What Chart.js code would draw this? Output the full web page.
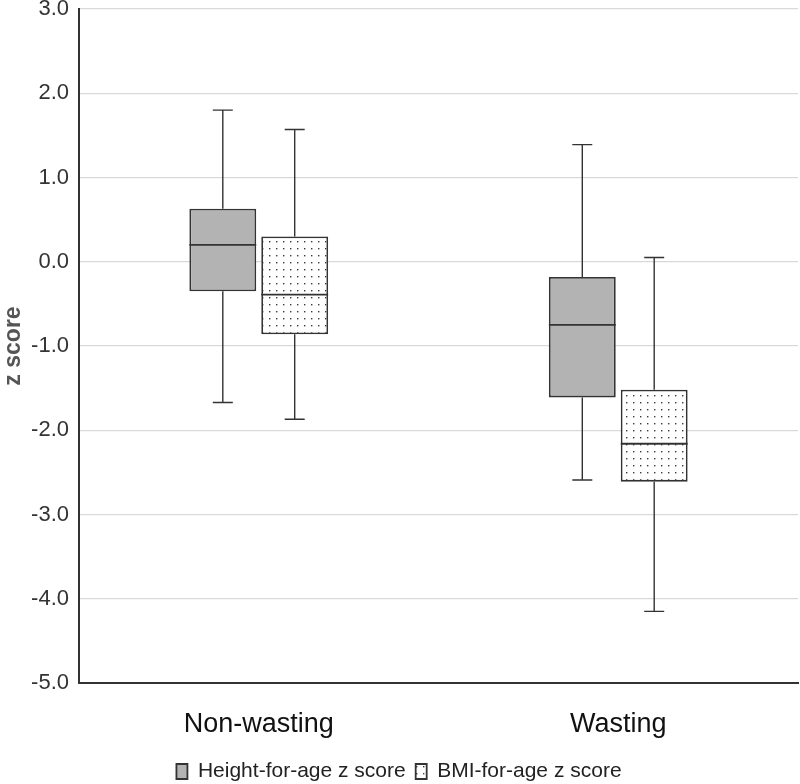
<!DOCTYPE html>
<html>
<head>
<meta charset="utf-8">
<script src="https://cdn.jsdelivr.net/npm/chart.js@4"></script>
<style>
  html, body { margin: 0; padding: 0; background: #fff; }
  #wrap { width: 800px; height: 784px; }
</style>
</head>
<body>
<div id="wrap"><canvas id="box_chart"></canvas></div>
<script>
const categories = ['Non-wasting', 'Wasting'];
const seriesNames = ['Height-for-age z score', 'BMI-for-age z score'];

// five-number summaries
const hazMin = [-1.67, -2.59];
const hazQ1 = [-0.35, -1.61];
const hazMedian = [0.20, -0.75];
const hazQ3 = [0.63, -0.18];
const hazMax = [1.80, 1.39];

const bmiMin = [-1.87, -4.15];
const bmiQ1 = [-0.86, -2.61];
const bmiMedian = [-0.39, -2.16];
const bmiQ3 = [0.30, -1.52];
const bmiMax = [1.57, 0.05];

const yMin = -5, yMax = 3;

function dotPattern() {
    const c = document.createElement('canvas');
    c.width = 7; c.height = 7;
    const g = c.getContext('2d');
    g.fillStyle = '#fff';
    g.fillRect(0, 0, 7, 7);
    g.fillStyle = '#3a3a3a';
    g.fillRect(3, 3, 1.4, 1.4);
    return g.createPattern(c, 'repeat');
}

const summaries = [
    {min: hazMin, median: hazMedian, max: hazMax},
    {min: bmiMin, median: bmiMedian, max: bmiMax}
];

// whiskers, caps and median lines
const boxPlotPlugin = {
    id: 'boxPlot',
    afterDatasetsDraw(chart) {
        const ctx = chart.ctx;
        const y = chart.scales.y;
        ctx.save();
        ctx.strokeStyle = '#333';
        chart.data.datasets.forEach((ds, di) => {
            const meta = chart.getDatasetMeta(di);
            const s = summaries[di];
            meta.data.forEach((bar, i) => {
                const x = bar.x;
                const half = bar.width / 2;
                const lo = ds.data[i][0], hi = ds.data[i][1];
                ctx.lineWidth = 1.4;
                ctx.beginPath();
                ctx.moveTo(x, y.getPixelForValue(hi));
                ctx.lineTo(x, y.getPixelForValue(s.max[i]));
                ctx.moveTo(x, y.getPixelForValue(lo));
                ctx.lineTo(x, y.getPixelForValue(s.min[i]));
                ctx.moveTo(x - 10, y.getPixelForValue(s.max[i]));
                ctx.lineTo(x + 10, y.getPixelForValue(s.max[i]));
                ctx.moveTo(x - 10, y.getPixelForValue(s.min[i]));
                ctx.lineTo(x + 10, y.getPixelForValue(s.min[i]));
                ctx.stroke();
                ctx.lineWidth = 1.8;
                ctx.beginPath();
                ctx.moveTo(x - half, y.getPixelForValue(s.median[i]));
                ctx.lineTo(x + half, y.getPixelForValue(s.median[i]));
                ctx.stroke();
            });
        });
        ctx.restore();
    }
};

const font = 'Liberation Sans, Arial, sans-serif';
const ctx = document.getElementById('box_chart').getContext('2d');
new Chart(ctx, {
    type: 'bar',
    data: {
        labels: categories,
        datasets: [{
            label: seriesNames[0],
            data: categories.map((c, i) => [hazQ1[i], hazQ3[i]]),
            backgroundColor: '#b3b3b3',
            borderColor: '#333',
            borderWidth: 1.8,
            borderSkipped: false
        }, {
            label: seriesNames[1],
            data: categories.map((c, i) => [bmiQ1[i], bmiQ3[i]]),
            backgroundColor: dotPattern(),
            borderColor: '#333',
            borderWidth: 1.8,
            borderSkipped: false
        }]
    },
    plugins: [boxPlotPlugin],
    options: {
        responsive: true,
        maintainAspectRatio: false,
        animation: false,
        layout: { padding: { top: 0, right: 2, left: 0, bottom: -8 } },
        categoryPercentage: 0.4,
        barPercentage: 0.93,
        plugins: {
            tooltip: { enabled: false },
            legend: {
                position: 'bottom',
                labels: {
                    color: '#222',
                    font: { family: font, size: 21 },
                    boxWidth: 11,
                    boxHeight: 15,
                    padding: 10
                }
            }
        },
        scales: {
            x: {
                grid: { display: false },
                border: { color: '#333', width: 2 },
                ticks: {
                    color: '#111',
                    font: { family: font, size: 27 },
                    padding: 17
                },
                afterFit: s => { s.height = 68; }
            },
            y: {
                min: yMin,
                max: yMax,
                grid: { color: '#d9d9d9', lineWidth: 1.2, drawTicks: false },
                border: { color: '#333', width: 2 },
                ticks: {
                    stepSize: 1,
                    color: '#333',
                    font: { family: font, size: 22 },
                    padding: 10,
                    callback: v => v.toFixed(1)
                },
                title: {
                    display: true,
                    text: 'z score',
                    color: '#555',
                    font: { family: font, size: 23, weight: 'bold' },
                    padding: 0
                },
                afterFit: s => { s.width = 79; s.paddingTop = 9; }
            }
        }
    }
});
</script>
</body>
</html>
